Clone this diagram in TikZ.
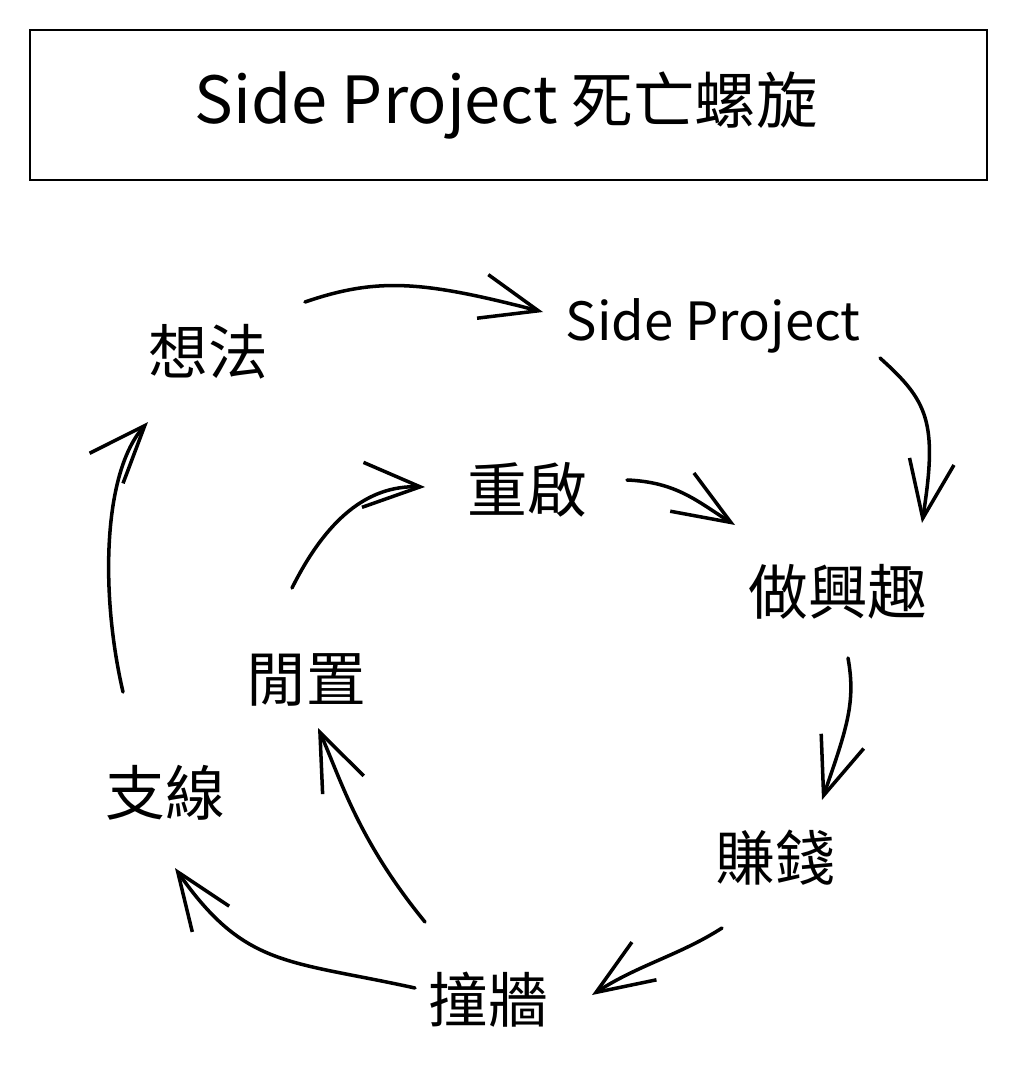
\documentclass[tikz,border=0pt]{standalone}
\usepackage{fontspec}
\setmainfont{Noto Sans CJK TC}
\usetikzlibrary{arrows.meta,calc}
\tikzset{
  lbl/.style={inner sep=0pt, font=\fontsize{34}{34}\selectfont},
  latinlbl/.style={inner sep=0pt, font=\fontsize{30}{30}\selectfont},
  conn/.style={line width=2pt, line cap=round, line join=round,
    -{Straight Barb[length=1.15cm,width=0.9cm,line width=2pt]}},
  titlebox/.style={draw, line width=1.3pt, minimum width=19.14cm, minimum height=3cm, inner sep=0pt}
}
\begin{document}
\begin{tikzpicture}[x=0.02cm,y=-0.02cm]
\useasboundingbox (0,0) rectangle (1017,1071);
\node[titlebox] (title) at (508.5,105) {};
\node[inner sep=0pt, font=\fontsize{35}{35}\selectfont] (titletext) at (506,105) {{\fontsize{37}{37}\selectfont Side Project} 死亡螺旋};

\node[lbl] (idea) at (208,352) {想法};
\node[latinlbl] (sp) at (713,326) {Side Project};
\node[lbl] (hobby) at (838,592) {做興趣};
\node[lbl] (money) at (775,858) {賺錢};
\node[lbl] (wall) at (488,1000) {撞牆};
\node[lbl] (branch) at (165,793) {支線};
\node[lbl] (idle) at (306,680) {閒置};
\node[lbl] (restart) at (527,490) {重啟};

% idea -> side project
\draw[conn] ($(idea.center)+(97,-50)$) .. controls ($(idea.center)+(170,-75)$) and ($(sp.center)+(-290,-45)$) .. ($(sp.center)+(-170,-14)$);
% side project -> hobby
\draw[conn] ($(sp.center)+(167,32)$) .. controls ($(sp.center)+(215,75)$) and ($(hobby.center)+(100,-170)$) .. ($(hobby.center)+(84,-69)$);
% hobby -> money
\draw[conn] ($(hobby.center)+(10,66)$) .. controls ($(hobby.center)+(18,110)$) and ($(money.center)+(72,-130)$) .. ($(money.center)+(47,-58)$);
% money -> wall
\draw[conn] ($(money.center)+(-53,70)$) .. controls ($(money.center)+(-95,97)$) and ($(wall.center)+(150,-35)$) .. ($(wall.center)+(104,-5)$);
% wall -> branch
\draw[conn] ($(wall.center)+(-73,-12)$) .. controls ($(wall.center)+(-200,-40)$) and ($(branch.center)+(80,175)$) .. ($(branch.center)+(10,75)$);
% branch -> idea
\draw[conn] ($(branch.center)+(-42,-101)$) .. controls ($(branch.center)+(-65,-200)$) and ($(idea.center)+(-105,120)$) .. ($(idea.center)+(-60,70)$);
% wall -> idle
\draw[conn] ($(wall.center)+(-63,-78)$) .. controls ($(wall.center)+(-130,-160)$) and ($(idle.center)+(35,100)$) .. ($(idle.center)+(12,48)$);
% idle -> restart
\draw[conn] ($(idle.center)+(-14,-92)$) .. controls ($(idle.center)+(20,-160)$) and ($(restart.center)+(-160,-5)$) .. ($(restart.center)+(-102,-3)$);
% restart -> hobby
\draw[conn] ($(restart.center)+(100,-10)$) .. controls ($(restart.center)+(150,-8)$) and ($(hobby.center)+(-140,-90)$) .. ($(hobby.center)+(-103,-67)$);
\end{tikzpicture}
\end{document}
